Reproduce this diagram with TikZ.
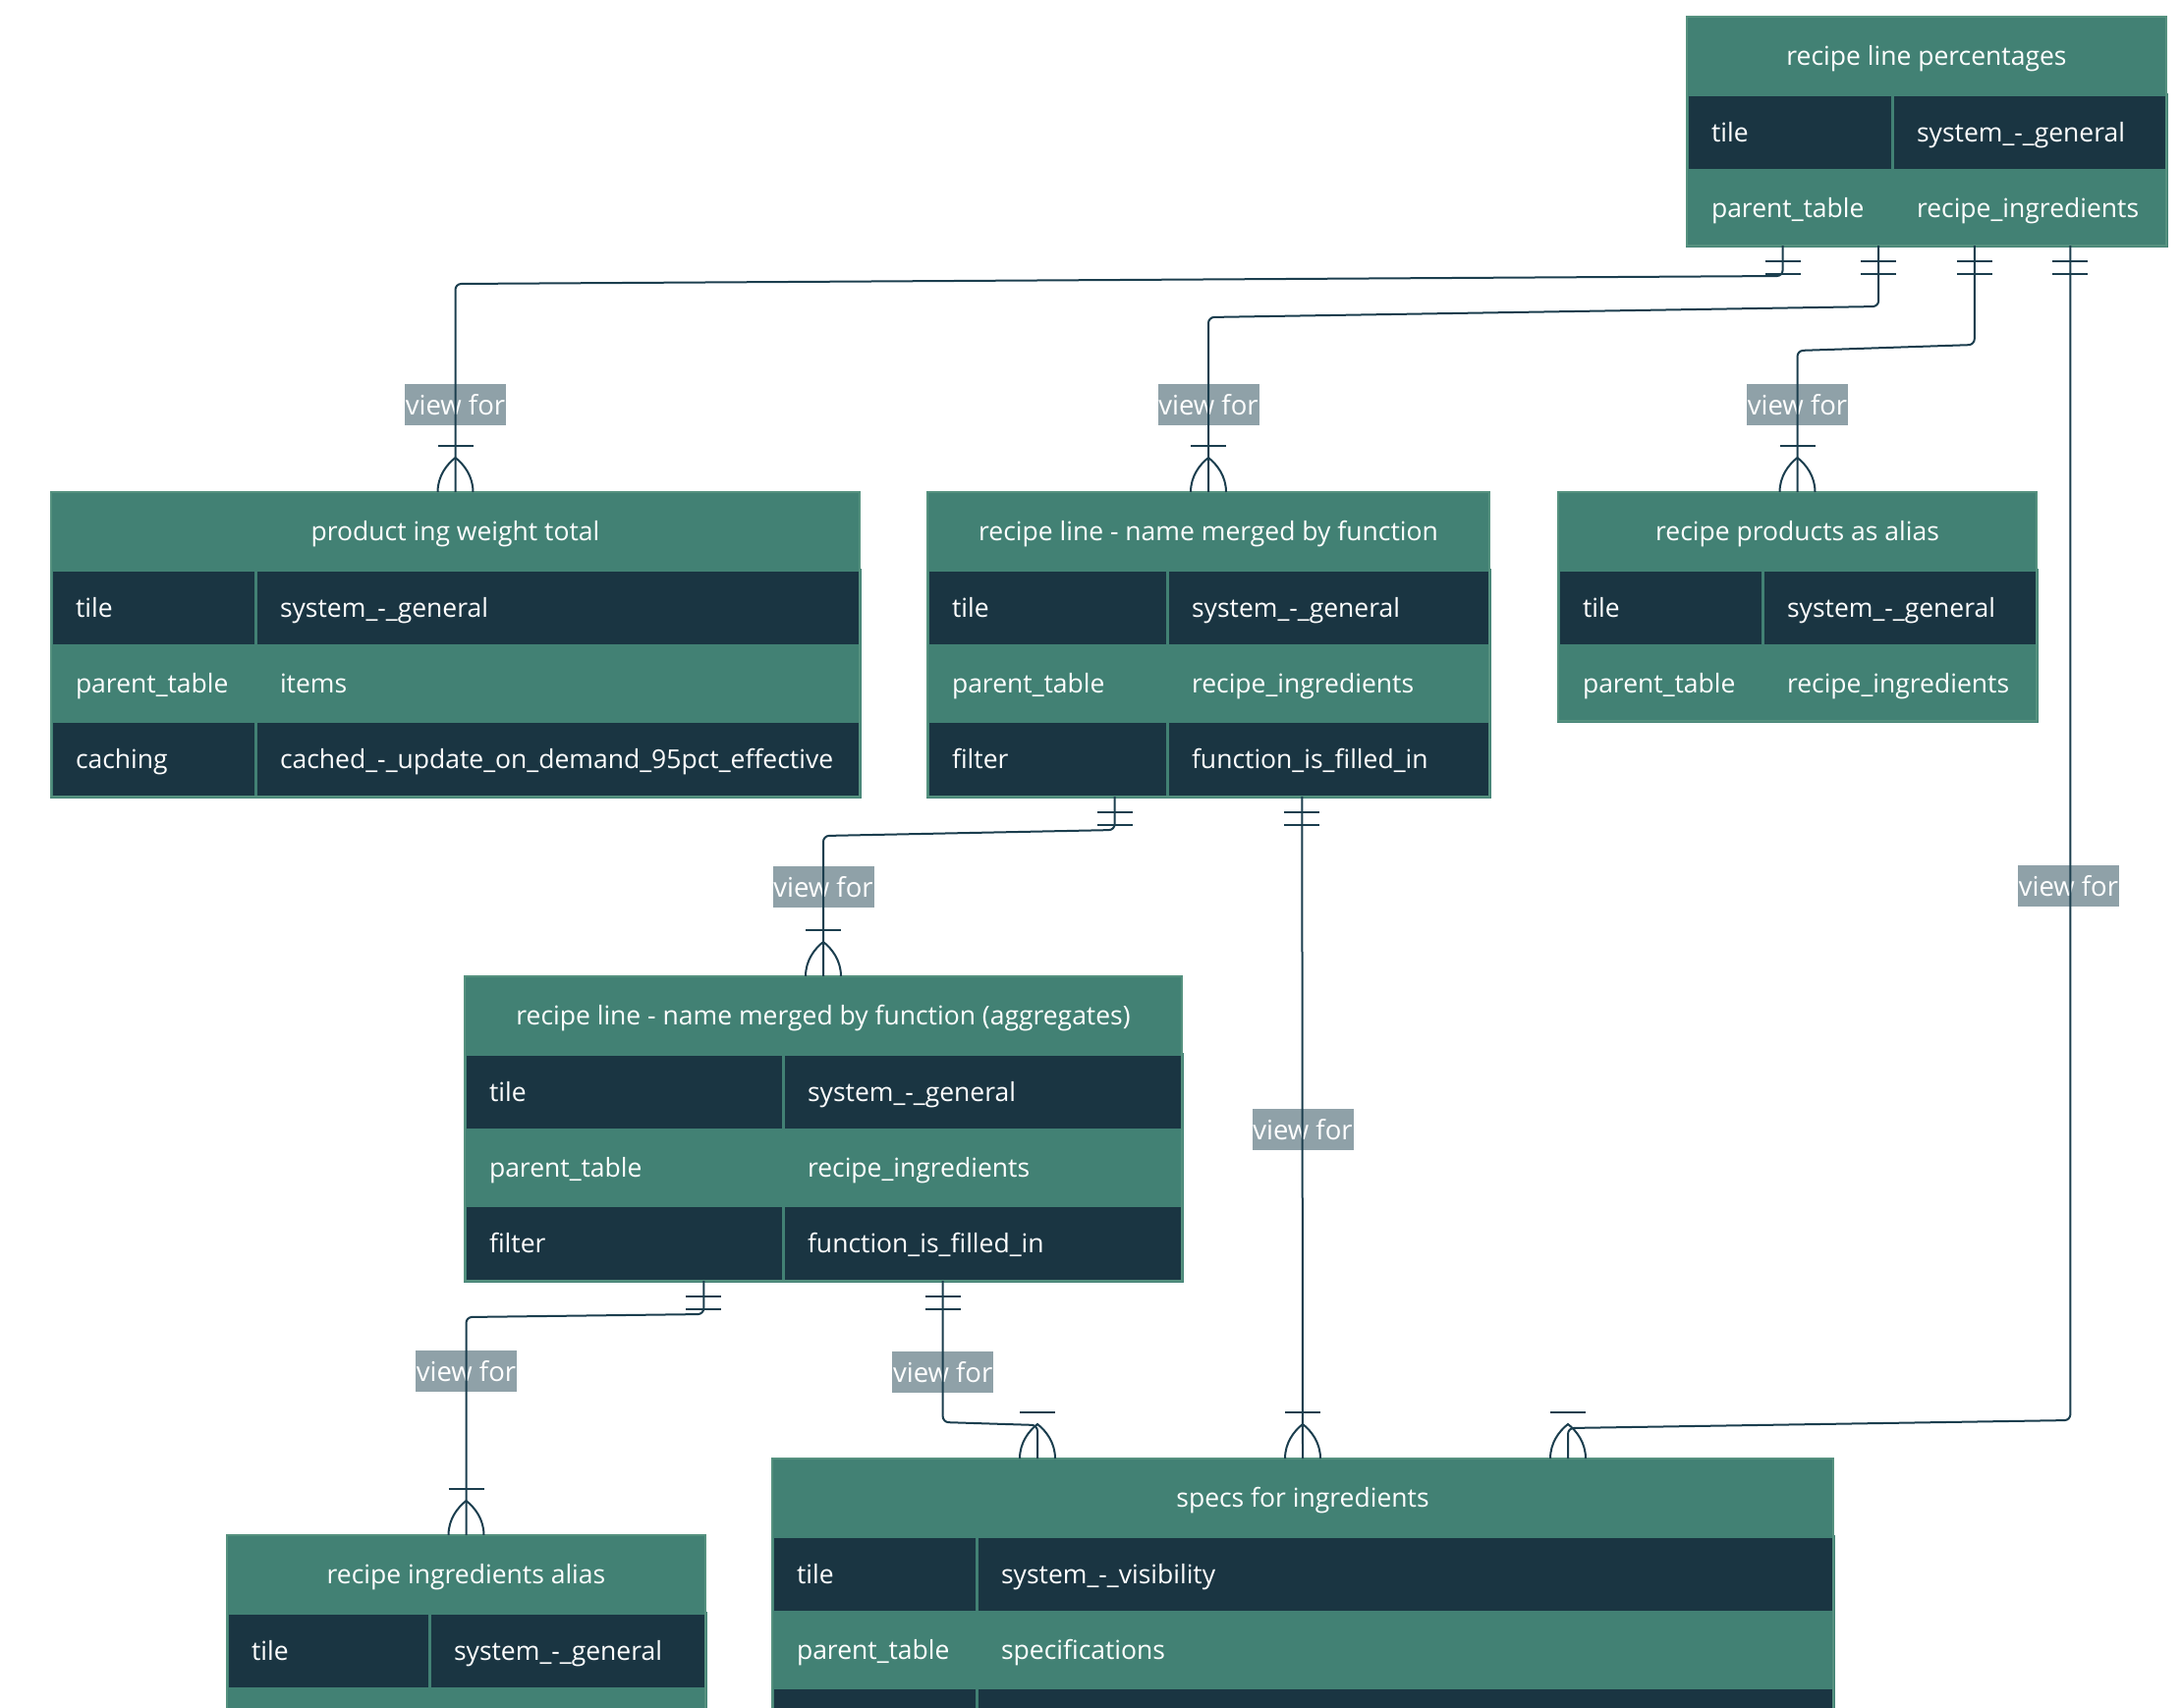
\documentclass[tikz,border=0pt]{standalone}
\usepackage{fontspec}
\setmainfont{Open Sans}
\usepackage{tikz}
\usetikzlibrary{positioning, calc}
\definecolor{ergreen}{HTML}{428174}
\definecolor{erdark}{HTML}{1A3542}
\definecolor{eredge}{HTML}{55917F}
\definecolor{erline}{HTML}{1B3E4E}
\definecolor{ertag}{HTML}{8FA1A8}
\newcommand{\erfont}{\fontsize{26.5pt}{32pt}\selectfont}

\tikzset{
  erone/.pic={
    \draw[erline, line width=2.5pt] (-18,16) -- (18,16) (-18,29) -- (18,29);
  },
  ermany/.pic={
    \draw[erline, line width=2.5pt] (-18,-47) -- (18,-47);
    \draw[erline, line width=2pt] (-18,0) .. controls (-18,-16) and (-9,-28) .. (0,-35)
      .. controls (9,-28) and (18,-16) .. (18,0);
  },
}

\begin{document}
\begin{tikzpicture}[
  x=1pt, y=-1pt,
  thead/.style={
    rectangle, draw=ergreen, fill=ergreen, line width=2pt, minimum height=79pt,
    inner sep=0pt, outer sep=0pt, text height=23pt, text depth=3pt,
    text=white, font=\erfont, anchor=north west,
  },
  cell/.style={
    rectangle, draw=ergreen, line width=3pt, minimum height=77pt,
    inner xsep=25pt, inner ysep=0pt, outer sep=0pt, text height=23pt, text depth=3pt,
    text=white, font=\erfont, align=left,
    execute at begin node={\hyphenpenalty=10000\exhyphenpenalty=10000},
  },
  darkcell/.style={cell, fill=erdark, text width=#1},
  lightcell/.style={cell, fill=ergreen, text width=#1},
  tframe/.style={draw=eredge, line width=2pt},
  tag/.style={
    rectangle, fill=ertag, text=white, font=\fontsize{27.5pt}{32pt}\selectfont,
    minimum width=103pt, minimum height=42pt, inner sep=0pt,
  },
  link/.style={draw=erline, line width=2pt, rounded corners=6pt},
]
  \path[use as bounding box, clip] (0,0) rectangle (2220,1738);

  % Table: recipe line percentages
  \node[thead, minimum width=488pt] (rlp) at (1717,17) {recipe line percentages};
  \node[darkcell=159pt, anchor=north west] (rlp-k1) at (rlp.south west) {tile};
  \node[darkcell=229pt, right=0pt of rlp-k1] (rlp-v1) {system\_-\_general};
  \node[lightcell=159pt, below=0pt of rlp-k1] (rlp-k2) {parent\_table};
  \node[lightcell=229pt, right=0pt of rlp-k2] (rlp-v2) {recipe\_ingredients};
  \draw[tframe] (rlp.north west) rectangle (rlp-v2.south east);

  % Table: product ing weight total
  \node[thead, minimum width=823pt] (piwt) at (52,501) {product ing weight total};
  \node[darkcell=158pt, anchor=north west] (piwt-k1) at (piwt.south west) {tile};
  \node[darkcell=565pt, right=0pt of piwt-k1] (piwt-v1) {system\_-\_general};
  \node[lightcell=158pt, below=0pt of piwt-k1] (piwt-k2) {parent\_table};
  \node[lightcell=565pt, right=0pt of piwt-k2] (piwt-v2) {items};
  \node[darkcell=158pt, below=0pt of piwt-k2] (piwt-k3) {caching};
  \node[darkcell=565pt, right=0pt of piwt-k3] (piwt-v3) {cached\_-\_update\_on\_demand\_95pct\_effective};
  \draw[tframe] (piwt.north west) rectangle (piwt-v3.south east);

  % Table: recipe line - name merged by function
  \node[thead, minimum width=572pt] (rlnm) at (944,501) {recipe line - name merged by function};
  \node[darkcell=194pt, anchor=north west] (rlnm-k1) at (rlnm.south west) {tile};
  \node[darkcell=278pt, right=0pt of rlnm-k1] (rlnm-v1) {system\_-\_general};
  \node[lightcell=194pt, below=0pt of rlnm-k1] (rlnm-k2) {parent\_table};
  \node[lightcell=278pt, right=0pt of rlnm-k2] (rlnm-v2) {recipe\_ingredients};
  \node[darkcell=194pt, below=0pt of rlnm-k2] (rlnm-k3) {filter};
  \node[darkcell=278pt, right=0pt of rlnm-k3] (rlnm-v3) {function\_is\_filled\_in};
  \draw[tframe] (rlnm.north west) rectangle (rlnm-v3.south east);

  % Table: recipe products as alias
  \node[thead, minimum width=487pt] (rpa) at (1586,501) {recipe products as alias};
  \node[darkcell=158pt, anchor=north west] (rpa-k1) at (rpa.south west) {tile};
  \node[darkcell=229pt, right=0pt of rpa-k1] (rpa-v1) {system\_-\_general};
  \node[lightcell=158pt, below=0pt of rpa-k1] (rpa-k2) {parent\_table};
  \node[lightcell=229pt, right=0pt of rpa-k2] (rpa-v2) {recipe\_ingredients};
  \draw[tframe] (rpa.north west) rectangle (rpa-v2.south east);

  % Table: recipe line - name merged by function (aggregates)
  \node[thead, minimum width=730pt] (rlnma) at (473,994) {recipe line - name merged by function (aggregates)};
  \node[darkcell=274pt, anchor=north west] (rlnma-k1) at (rlnma.south west) {tile};
  \node[darkcell=356pt, right=0pt of rlnma-k1] (rlnma-v1) {system\_-\_general};
  \node[lightcell=274pt, below=0pt of rlnma-k1] (rlnma-k2) {parent\_table};
  \node[lightcell=356pt, right=0pt of rlnma-k2] (rlnma-v2) {recipe\_ingredients};
  \node[darkcell=274pt, below=0pt of rlnma-k2] (rlnma-k3) {filter};
  \node[darkcell=356pt, right=0pt of rlnma-k3] (rlnma-v3) {function\_is\_filled\_in};
  \draw[tframe] (rlnma.north west) rectangle (rlnma-v3.south east);

  % Table: recipe ingredients alias
  \node[thead, minimum width=487pt] (ria) at (231,1563) {recipe ingredients alias};
  \node[darkcell=156pt, anchor=north west] (ria-k1) at (ria.south west) {tile};
  \node[darkcell=231pt, right=0pt of ria-k1] (ria-v1) {system\_-\_general};
  \node[lightcell=156pt, below=0pt of ria-k1] (ria-k2) {};
  \node[lightcell=231pt, right=0pt of ria-k2] (ria-v2) {};
  \draw[tframe] (ria.north west) rectangle (ria-v2.south east);

  % Table: specs for ingredients
  \node[thead, minimum width=1080pt] (sfi) at (786,1485) {specs for ingredients};
  \node[darkcell=158pt, anchor=north west] (sfi-k1) at (sfi.south west) {tile};
  \node[darkcell=822pt, right=0pt of sfi-k1] (sfi-v1) {system\_-\_visibility};
  \node[lightcell=158pt, below=0pt of sfi-k1] (sfi-k2) {parent\_table};
  \node[lightcell=822pt, right=0pt of sfi-k2] (sfi-v2) {specifications};
  \node[darkcell=158pt, below=0pt of sfi-k2] (sfi-k3) {};
  \node[darkcell=822pt, right=0pt of sfi-k3] (sfi-v3) {};
  \draw[tframe] (sfi.north west) rectangle (sfi-v3.south east);

  % attach points
  \coordinate (rlp-s1) at ($(rlp-k2.south west)!0.2!(rlp-v2.south east)$);
  \coordinate (rlp-s2) at ($(rlp-k2.south west)!0.4!(rlp-v2.south east)$);
  \coordinate (rlp-s3) at ($(rlp-k2.south west)!0.6!(rlp-v2.south east)$);
  \coordinate (rlp-s4) at ($(rlp-k2.south west)!0.8!(rlp-v2.south east)$);
  \coordinate (rlnm-s1) at ($(rlnm-k3.south west)!1/3!(rlnm-v3.south east)$);
  \coordinate (rlnm-s2) at ($(rlnm-k3.south west)!2/3!(rlnm-v3.south east)$);
  \coordinate (rlnma-s1) at ($(rlnma-k3.south west)!1/3!(rlnma-v3.south east)$);
  \coordinate (rlnma-s2) at ($(rlnma-k3.south west)!2/3!(rlnma-v3.south east)$);
  \coordinate (sfi-n1) at ($(sfi.north west)!0.25!(sfi.north east)$);
  \coordinate (sfi-n2) at (sfi.north);
  \coordinate (sfi-n3) at ($(sfi.north west)!0.75!(sfi.north east)$);

  % relation labels
  \node[tag] (t1) at ($(piwt.north)+(0,-89)$) {view for};
  \node[tag] (t2) at ($(rlnm.north)+(0,-89)$) {view for};
  \node[tag] (t3) at ($(rpa.north)+(0,-89)$) {view for};
  \node[tag] (t4) at ($(rlp-s4)+(-2,652)$) {view for};
  \node[tag] (t5) at ($(rlnma.north)+(0,-91)$) {view for};
  \node[tag] (t6) at ($(sfi-n2)+(0,-335)$) {view for};
  \node[tag] (t7) at ($(ria.north)+(0,-167)$) {view for};
  \node[tag] (t8) at ($(rlnma-s2)+(0,93)$) {view for};

  % relations
  \draw[link] (rlp-s1) -- ++(0,31) -- ($(piwt.north)+(0,-212)$) -- (piwt.north);
  \draw[link] (rlp-s2) -- ++(0,62) -- ($(rlnm.north)+(0,-178)$) -- (rlnm.north);
  \draw[link] (rlp-s3) -- ++(0,101) -- ($(rpa.north)+(0,-144)$) -- (rpa.north);
  \draw[link] (rlp-s4) -- ++(0,1196) -- ($(sfi-n3)+(0,-31)$) -- (sfi-n3);
  \draw[link] (rlnm-s1) -- ++(0,34) -- ($(rlnma.north)+(0,-143)$) -- (rlnma.north);
  \draw[link] (rlnm-s2) -- (sfi-n2);
  \draw[link] (rlnma-s1) -- ++(0,34) -- ($(ria.north)+(0,-222)$) -- (ria.north);
  \draw[link] (rlnma-s2) -- ++(0,144) -- ($(sfi-n1)+(0,-34)$) -- (sfi-n1);

  \foreach \s in {rlp-s1, rlp-s2, rlp-s3, rlp-s4, rlnm-s1, rlnm-s2, rlnma-s1, rlnma-s2}
    \pic at (\s) {erone};
  \foreach \n in {piwt.north, rlnm.north, rpa.north, rlnma.north, ria.north, sfi-n1, sfi-n2, sfi-n3}
    \pic at (\n) {ermany};
\end{tikzpicture}
\end{document}
